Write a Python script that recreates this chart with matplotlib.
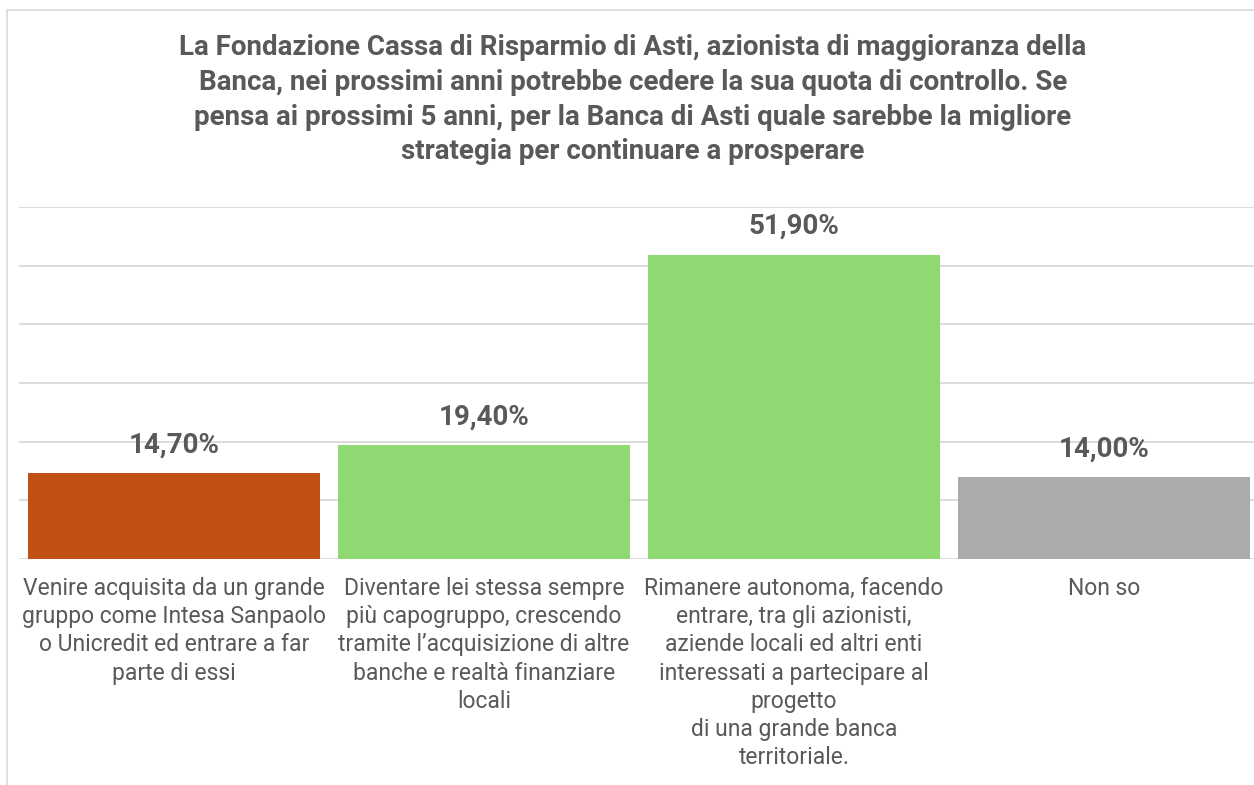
import matplotlib
matplotlib.use("Agg")
import matplotlib.pyplot as plt
from matplotlib.patches import Rectangle

plt.rcParams['font.family'] = ['Roboto', 'DejaVu Sans']

title = ("La Fondazione Cassa di Risparmio di Asti, azionista di maggioranza della\n"
         "Banca, nei prossimi anni potrebbe cedere la sua quota di controllo. Se\n"
         "pensa ai prossimi 5 anni, per la Banca di Asti quale sarebbe la migliore\n"
         "strategia per continuare a prosperare")

categories = [
    "Venire acquisita da un grande\ngruppo come Intesa Sanpaolo\no Unicredit ed entrare a far\nparte di essi",
    "Diventare lei stessa sempre\npiù capogruppo, crescendo\ntramite l’acquisizione di altre\nbanche e realtà finanziare\nlocali",
    "Rimanere autonoma, facendo\nentrare, tra gli azionisti,\naziende locali ed altri enti\ninteressati a partecipare al\nprogetto\ndi una grande banca\nterritoriale.",
    "Non so",
]
values = [14.7, 19.4, 51.9, 14.0]
labels = ["14,70%", "19,40%", "51,90%", "14,00%"]
colors = ["#C05016", "#8FD872", "#8FD872", "#ABABAB"]

W, H = 1254, 785
fig = plt.figure(figsize=(W / 100, H / 100), dpi=100)

# outer chart frame (cropped on right/bottom)
fig.patches.append(Rectangle((7 / W, -0.1), 1.2, 1 - 10 / H + 0.1, transform=fig.transFigure,
                             fill=False, edgecolor="#D9D9D9", linewidth=1.2))

# plot area: baseline at y=559 px, 60% at y=207 px, categories 310 px wide from x=19
ax = fig.add_axes([19 / W, (H - 559) / H, 1240 / W, (559 - 207) / H])
x = range(len(values))
ax.bar(x, values, width=0.94, color=colors, zorder=3)
ax.set_xlim(-0.5, 3.5)
ax.set_ylim(0, 60)
ax.set_yticks(range(0, 61, 10))
ax.yaxis.grid(True, color="#D9D9D9", linewidth=1.3, zorder=0)
ax.set_yticklabels([])
ax.tick_params(length=0)
ax.set_xticks([])
for s in ax.spines.values():
    s.set_visible(False)

for i, v in enumerate(values):
    ax.annotate(labels[i], (i, v), xytext=(0, 28), textcoords="offset pixels",
                ha="center", va="center", fontsize=20, fontweight="bold", color="#595959", zorder=4)
    ax.annotate(categories[i], (i, 0), xytext=(0, -18), textcoords="offset pixels",
                ha="center", va="top", fontsize=16.5, color="#595959", linespacing=1.29)

fig.text(0.5 + 6 / W, 1 - 34 / H, title, ha="center", va="top", fontsize=20, fontweight="bold",
         color="#595959", linespacing=1.37)

fig.savefig("out.png", dpi=100, facecolor="white")
